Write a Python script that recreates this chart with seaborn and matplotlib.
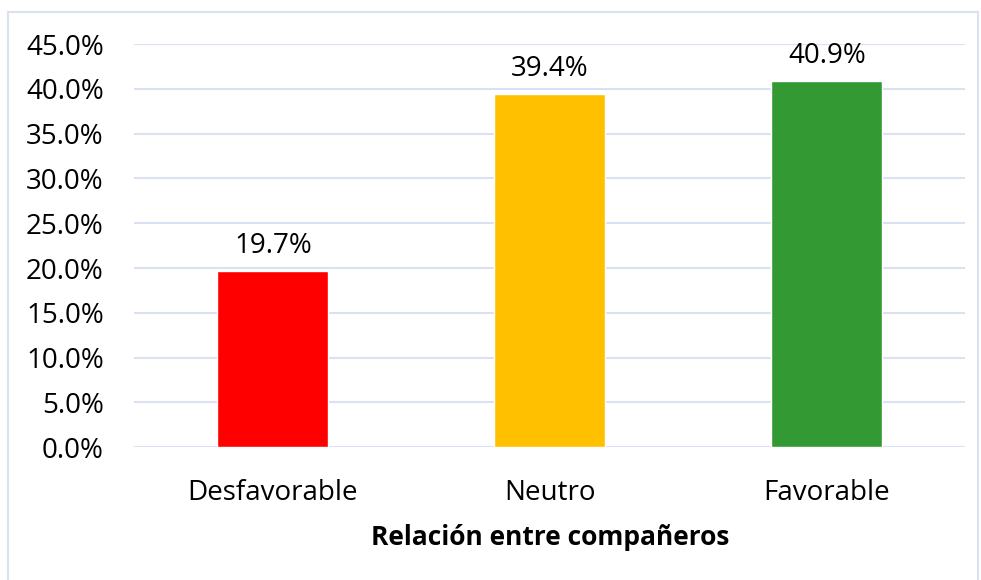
import matplotlib
matplotlib.use("Agg")
import matplotlib.pyplot as plt
import seaborn as sns
import pandas as pd
from matplotlib.patches import Rectangle
from matplotlib.ticker import PercentFormatter

categories = ["Desfavorable", "Neutro", "Favorable"]
values = [19.7, 39.4, 40.9]
colors = ["#FF0000", "#FFC000", "#339933"]
y_ticks = [0, 5, 10, 15, 20, 25, 30, 35, 40, 45]
x_title = "Relación entre compañeros"

sns.set_theme(style="white")
plt.rcParams["font.family"] = ["Open Sans", "DejaVu Sans"]
plt.rcParams["text.color"] = "black"
plt.rcParams["axes.labelcolor"] = "black"

df = pd.DataFrame({"cat": categories, "val": values})

fig = plt.figure(figsize=(9.81, 5.80), dpi=100)
ax = fig.add_axes([0.137, 0.229, 0.847, 0.695])

sns.barplot(data=df, x="cat", y="val", hue="cat", palette=colors,
            width=0.4, legend=False, saturation=1, ax=ax)

ax.set_ylim(0, 45)
ax.set_yticks(y_ticks)
ax.yaxis.set_major_formatter(PercentFormatter(decimals=1))
ax.grid(axis="y", color="#D9E1F2", linewidth=1.5)
ax.set_axisbelow(True)
for s in ax.spines.values():
    s.set_visible(False)
ax.tick_params(axis="y", length=0, labelsize=20, colors="black", pad=22)
ax.tick_params(axis="x", length=0, labelsize=20, colors="black", pad=23)

for c in ax.containers:
    ax.bar_label(c, fmt="%.1f%%", fontsize=20, padding=8, color="black")

ax.set_xlabel(x_title, fontsize=19, fontweight="bold", labelpad=12, color="black")
ax.set_ylabel("")

fig.patches.append(Rectangle((8 / 981, -0.02), 970 / 981, 0.02 + 568 / 580,
                             transform=fig.transFigure, fill=False,
                             edgecolor="#D9E1F2", linewidth=1.5))

fig.savefig("out.png", dpi=100)
